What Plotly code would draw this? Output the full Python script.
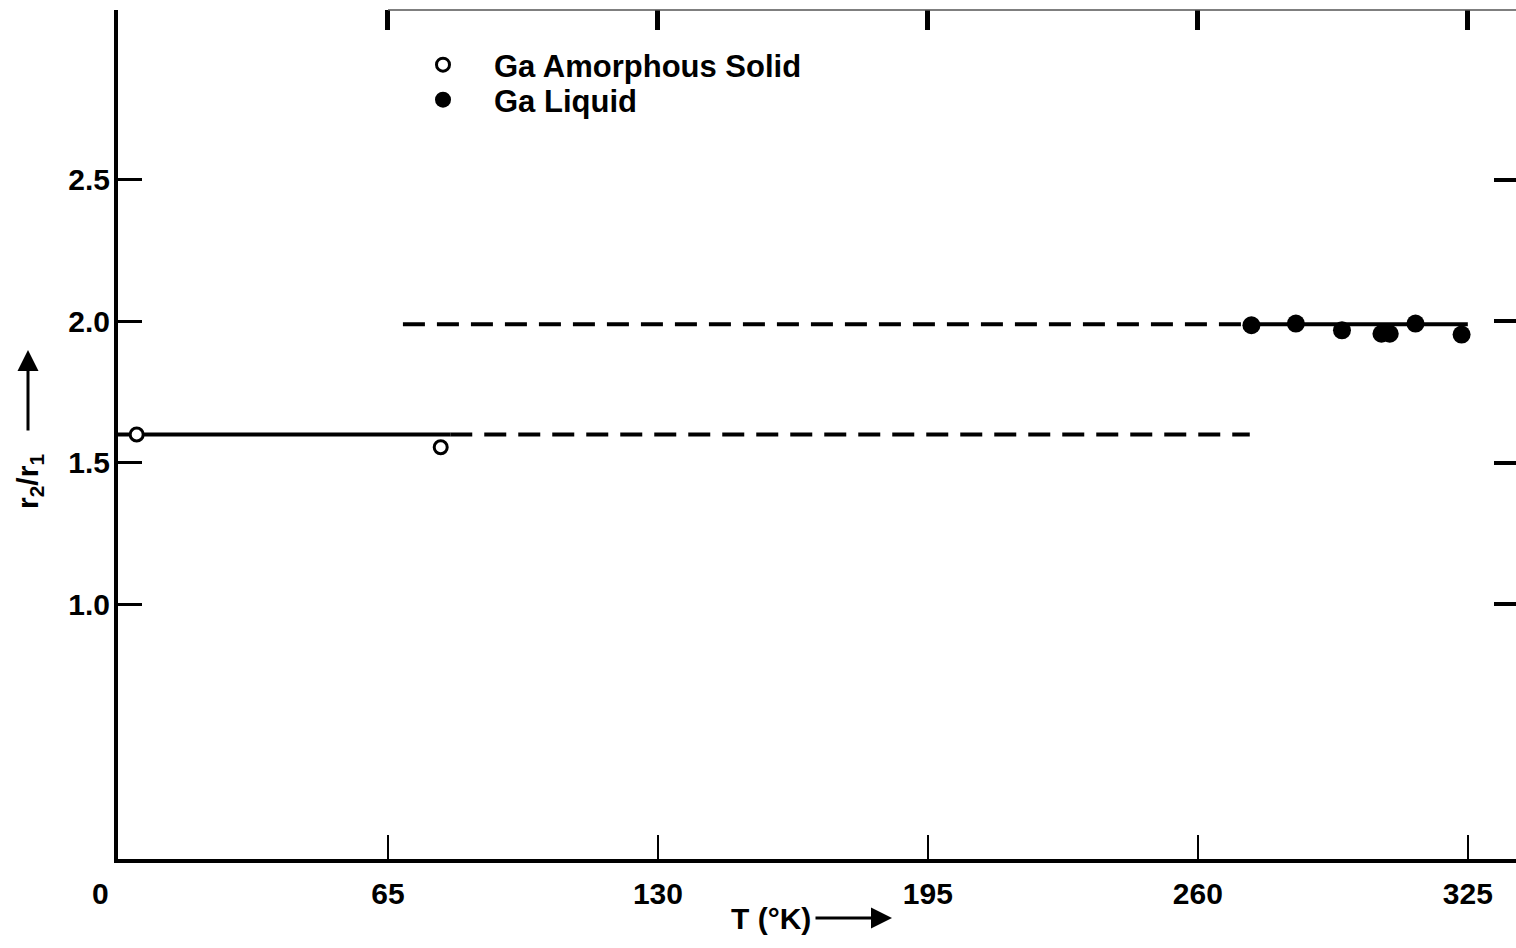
import plotly.graph_objects as go

# Measured ratio r2/r1 of Ga against temperature
T_amorphous = [4.5, 77.7]
r_amorphous = [1.60, 1.555]

T_liquid = [272.9, 283.6, 294.7, 304.2, 306.2, 312.4, 323.5]
r_liquid = [1.986, 1.992, 1.968, 1.956, 1.956, 1.992, 1.953]

# Mean levels and the temperature spans over which they are drawn
amorphous_level = 1.60
amorphous_solid_span = [0, 80]
amorphous_dashed_span = [80, 272.5]

liquid_level = 1.99
liquid_dashed_span = [68.6, 272.9]
liquid_solid_span = [272.9, 325]

x_ticks = [0, 65, 130, 195, 260, 325]
x_ticktext = ["", "65", "130", "195", "260", "325"]
y_ticks = [1.0, 1.5, 2.0, 2.5]
y_ticktext = ["1.0", "1.5", "2.0", "2.5"]

x_range = [0, 336.6]
y_range = [0.1, 3.1]

FONT = "Liberation Sans"
FS = 30
TXT = dict(family=FONT, size=FS, color="black", weight="bold")

# plot-area geometry in pixels, used to place the titles
L, T, B, W, H = 118, 10, 89, 1516, 948
PW, PH = W - L, H - T - B


def px_x(p):
    return (p - L) / PW


def px_y(p):
    return (H - B - p) / PH


fig = go.Figure()

# level lines
fig.add_trace(go.Scatter(x=amorphous_solid_span, y=[amorphous_level] * 2, mode="lines",
                         line=dict(color="black", width=4), showlegend=False, hoverinfo="skip"))
fig.add_trace(go.Scatter(x=amorphous_dashed_span, y=[amorphous_level] * 2, mode="lines",
                         line=dict(color="black", width=4, dash="22px,12px"),
                         showlegend=False, hoverinfo="skip"))
fig.add_trace(go.Scatter(x=liquid_dashed_span, y=[liquid_level] * 2, mode="lines",
                         line=dict(color="black", width=4, dash="22px,12px"),
                         showlegend=False, hoverinfo="skip"))
fig.add_trace(go.Scatter(x=liquid_solid_span, y=[liquid_level] * 2, mode="lines",
                         line=dict(color="black", width=4), showlegend=False, hoverinfo="skip"))

# measured points
fig.add_trace(go.Scatter(x=T_amorphous, y=r_amorphous, mode="markers",
                         name="Ga Amorphous Solid", legend="legend",
                         marker=dict(symbol="circle", size=13, color="white",
                                     line=dict(color="black", width=3))))
fig.add_trace(go.Scatter(x=T_liquid, y=r_liquid, mode="markers",
                         name="Ga Liquid", legend="legend2",
                         marker=dict(symbol="circle", size=18, color="black",
                                     line=dict(color="black", width=0))))

# carrier for the top / right tick axes
fig.add_trace(go.Scatter(x=[None], y=[None], xaxis="x2", yaxis="y2",
                         showlegend=False, hoverinfo="skip"))

legend_common = dict(xanchor="left", yanchor="top", bgcolor="rgba(0,0,0,0)",
                     font=dict(family=FONT, size=31, color="black", weight="bold"),
                     itemwidth=92)

fig.update_layout(
    width=W, height=H,
    margin=dict(l=L, r=0, t=T, b=B),
    paper_bgcolor="white", plot_bgcolor="white",
    font=TXT,
    xaxis=dict(range=x_range, tickmode="array", tickvals=x_ticks, ticktext=x_ticktext,
               ticks="inside", ticklen=24, tickwidth=2, tickcolor="black",
               showline=True, linewidth=4, linecolor="black", tickfont=TXT,
               showgrid=False, zeroline=False, ticklabelstandoff=5),
    yaxis=dict(range=y_range, tickmode="array", tickvals=y_ticks, ticktext=y_ticktext,
               ticks="inside", ticklen=24, tickwidth=3, tickcolor="black",
               showline=True, linewidth=4, linecolor="black", tickfont=TXT,
               showgrid=False, zeroline=False, ticklabelstandoff=-2),
    xaxis2=dict(range=x_range, overlaying="x", side="top", matches="x",
                tickmode="array", tickvals=x_ticks, ticks="inside", ticklen=20,
                tickwidth=5, tickcolor="black", showticklabels=False,
                showline=False, showgrid=False, zeroline=False),
    yaxis2=dict(range=y_range, overlaying="y", side="right", matches="y",
                tickmode="array", tickvals=y_ticks, ticks="inside", ticklen=22,
                tickwidth=4, tickcolor="black", showticklabels=False,
                showline=False, showgrid=False, zeroline=False),
    legend=dict(x=px_x(392), y=px_y(38), **legend_common),
    legend2=dict(x=px_x(392), y=px_y(73), **legend_common),
    showlegend=True,
)

# thin top frame line
fig.add_shape(type="line", xref="paper", yref="paper", x0=px_x(388), x1=1, y0=1, y1=1,
              line=dict(color="#555555", width=1.5))

# origin label sits left of the corner
fig.add_annotation(x=px_x(100), y=px_y(893), xref="paper", yref="paper", text="0",
                   xanchor="center", yanchor="middle", showarrow=False, font=TXT)

# axis titles with their arrows
fig.add_annotation(x=px_x(30), y=px_y(482), xref="paper", yref="paper",
                   text="r<sub>2</sub>/r<sub>1</sub>", textangle=-90, showarrow=False,
                   xanchor="center", yanchor="middle", font=TXT)
fig.add_annotation(x=px_x(28), y=px_y(350), xref="paper", yref="paper", text="",
                   showarrow=True, ax=0, ay=82, arrowhead=2, arrowsize=1.4,
                   arrowwidth=3, arrowcolor="black")
fig.add_annotation(x=px_x(771), y=px_y(918), xref="paper", yref="paper",
                   text="T (°K)", showarrow=False, xanchor="center", yanchor="middle",
                   font=TXT)
fig.add_annotation(x=px_x(892), y=px_y(918), xref="paper", yref="paper", text="",
                   showarrow=True, ax=-78, ay=0, arrowhead=2, arrowsize=1.4,
                   arrowwidth=3, arrowcolor="black")

fig.write_html("out.html")
